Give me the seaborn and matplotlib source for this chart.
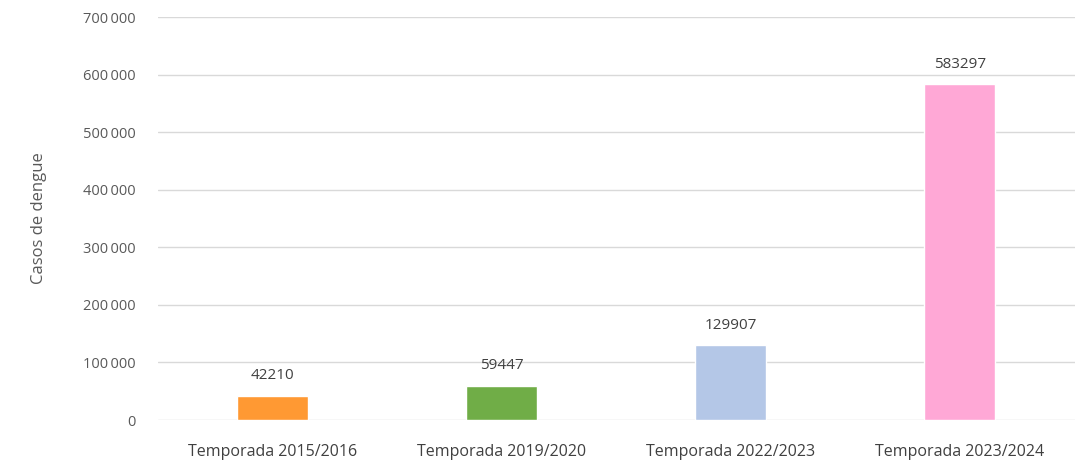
import matplotlib
matplotlib.use("Agg")
import matplotlib.pyplot as plt
import matplotlib.ticker as mticker
import seaborn as sns
import pandas as pd

# Data
temporadas = ["Temporada 2015/2016", "Temporada 2019/2020",
              "Temporada 2022/2023", "Temporada 2023/2024"]
casos = [42210, 59447, 129907, 583297]
colores = ["#FF9933", "#70AD47", "#B4C7E7", "#FFA8D6"]

df = pd.DataFrame({"temporada": temporadas, "casos": casos})

sns.set_theme(style="white")
plt.rcParams["font.family"] = ["Open Sans", "DejaVu Sans"]

fig = plt.figure(figsize=(10.92, 4.62), dpi=100)
ax = fig.add_axes([0.1447, 0.0909, 0.8393, 0.8723])

sns.barplot(data=df, x="temporada", y="casos", hue="temporada",
            palette=colores, width=0.31, legend=False, ax=ax, saturation=1)

for cont in ax.containers:
    ax.bar_label(cont, padding=9, fontsize=11, color="#404040")

ax.set_ylim(0, 700000)
ax.set_yticks(range(0, 700001, 100000))
ax.yaxis.set_major_formatter(mticker.FuncFormatter(
    lambda v, p: f"{int(v):,}".replace(",", "\u2009")))
ax.grid(axis="y", color="#D9D9D9", linewidth=1)
ax.set_axisbelow(True)
for s in ax.spines.values():
    s.set_visible(False)

ax.set_xlabel("")
ax.set_ylabel("Casos de dengue", fontsize=12, color="#595959", labelpad=26)
ax.tick_params(axis="y", labelsize=10.5, colors="#595959", length=0, pad=16)
ax.tick_params(axis="x", labelsize=11.5, colors="#404040", length=0, pad=17)

fig.savefig("out.png", dpi=100)
